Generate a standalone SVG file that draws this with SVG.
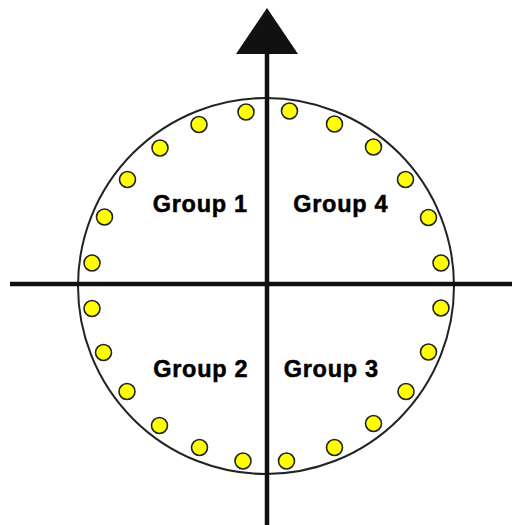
<svg xmlns="http://www.w3.org/2000/svg" width="512" height="525" viewBox="0 0 512 525">
  <style>
    .dot { fill: #ffff00; stroke: #222; stroke-width: 1.6; }
    .axis { stroke: #111; stroke-width: 4.5; fill: none; }
    .lbl { font-family: "Liberation Sans", Arial, sans-serif; font-weight: bold; font-size: 23.5px; letter-spacing: 0.7px; fill: #000; stroke: #000; stroke-width: 0.5; text-anchor: middle; }
  </style>
  <rect width="512" height="525" fill="#fff"/>
  <g id="ring">
    <circle cx="266" cy="286" r="188" fill="none" stroke="#222" stroke-width="2"/>
  </g>
  <g id="connectors">
    <line class="axis" x1="10" y1="284" x2="512" y2="284"/>
    <line class="axis" x1="267" y1="50" x2="267" y2="525"/>
    <polygon points="267,8 236,54 298,54" fill="#111"/>
  </g>
  <g id="dots">
    <circle class="dot" cx="246" cy="112" r="8"/>
    <circle class="dot" cx="199" cy="124.5" r="8"/>
    <circle class="dot" cx="160" cy="148" r="8"/>
    <circle class="dot" cx="127.5" cy="179.5" r="8"/>
    <circle class="dot" cx="104.5" cy="217" r="8"/>
    <circle class="dot" cx="92" cy="263" r="8"/>
    <circle class="dot" cx="92" cy="308.5" r="8"/>
    <circle class="dot" cx="103.5" cy="352.5" r="8"/>
    <circle class="dot" cx="127" cy="391.5" r="8"/>
    <circle class="dot" cx="159.5" cy="425.5" r="8"/>
    <circle class="dot" cx="199.5" cy="447.5" r="8"/>
    <circle class="dot" cx="243" cy="461" r="8"/>
    <circle class="dot" cx="286.5" cy="461" r="8"/>
    <circle class="dot" cx="334.5" cy="447.5" r="8"/>
    <circle class="dot" cx="373.5" cy="423.5" r="8"/>
    <circle class="dot" cx="406" cy="391.5" r="8"/>
    <circle class="dot" cx="428.5" cy="352" r="8"/>
    <circle class="dot" cx="441" cy="308" r="8"/>
    <circle class="dot" cx="441" cy="263" r="8"/>
    <circle class="dot" cx="428.5" cy="217.5" r="8"/>
    <circle class="dot" cx="405.5" cy="179.5" r="8"/>
    <circle class="dot" cx="373.5" cy="147" r="8"/>
    <circle class="dot" cx="334.5" cy="124" r="8"/>
    <circle class="dot" cx="289.5" cy="111" r="8"/>
  </g>
  <g id="group1"><text class="lbl" x="200.3" y="211.5">Group 1</text></g>
  <g id="group4"><text class="lbl" x="340.8" y="211.5">Group 4</text></g>
  <g id="group2"><text class="lbl" x="200.8" y="376.5">Group 2</text></g>
  <g id="group3"><text class="lbl" x="331.3" y="376.5">Group 3</text></g>
</svg>
